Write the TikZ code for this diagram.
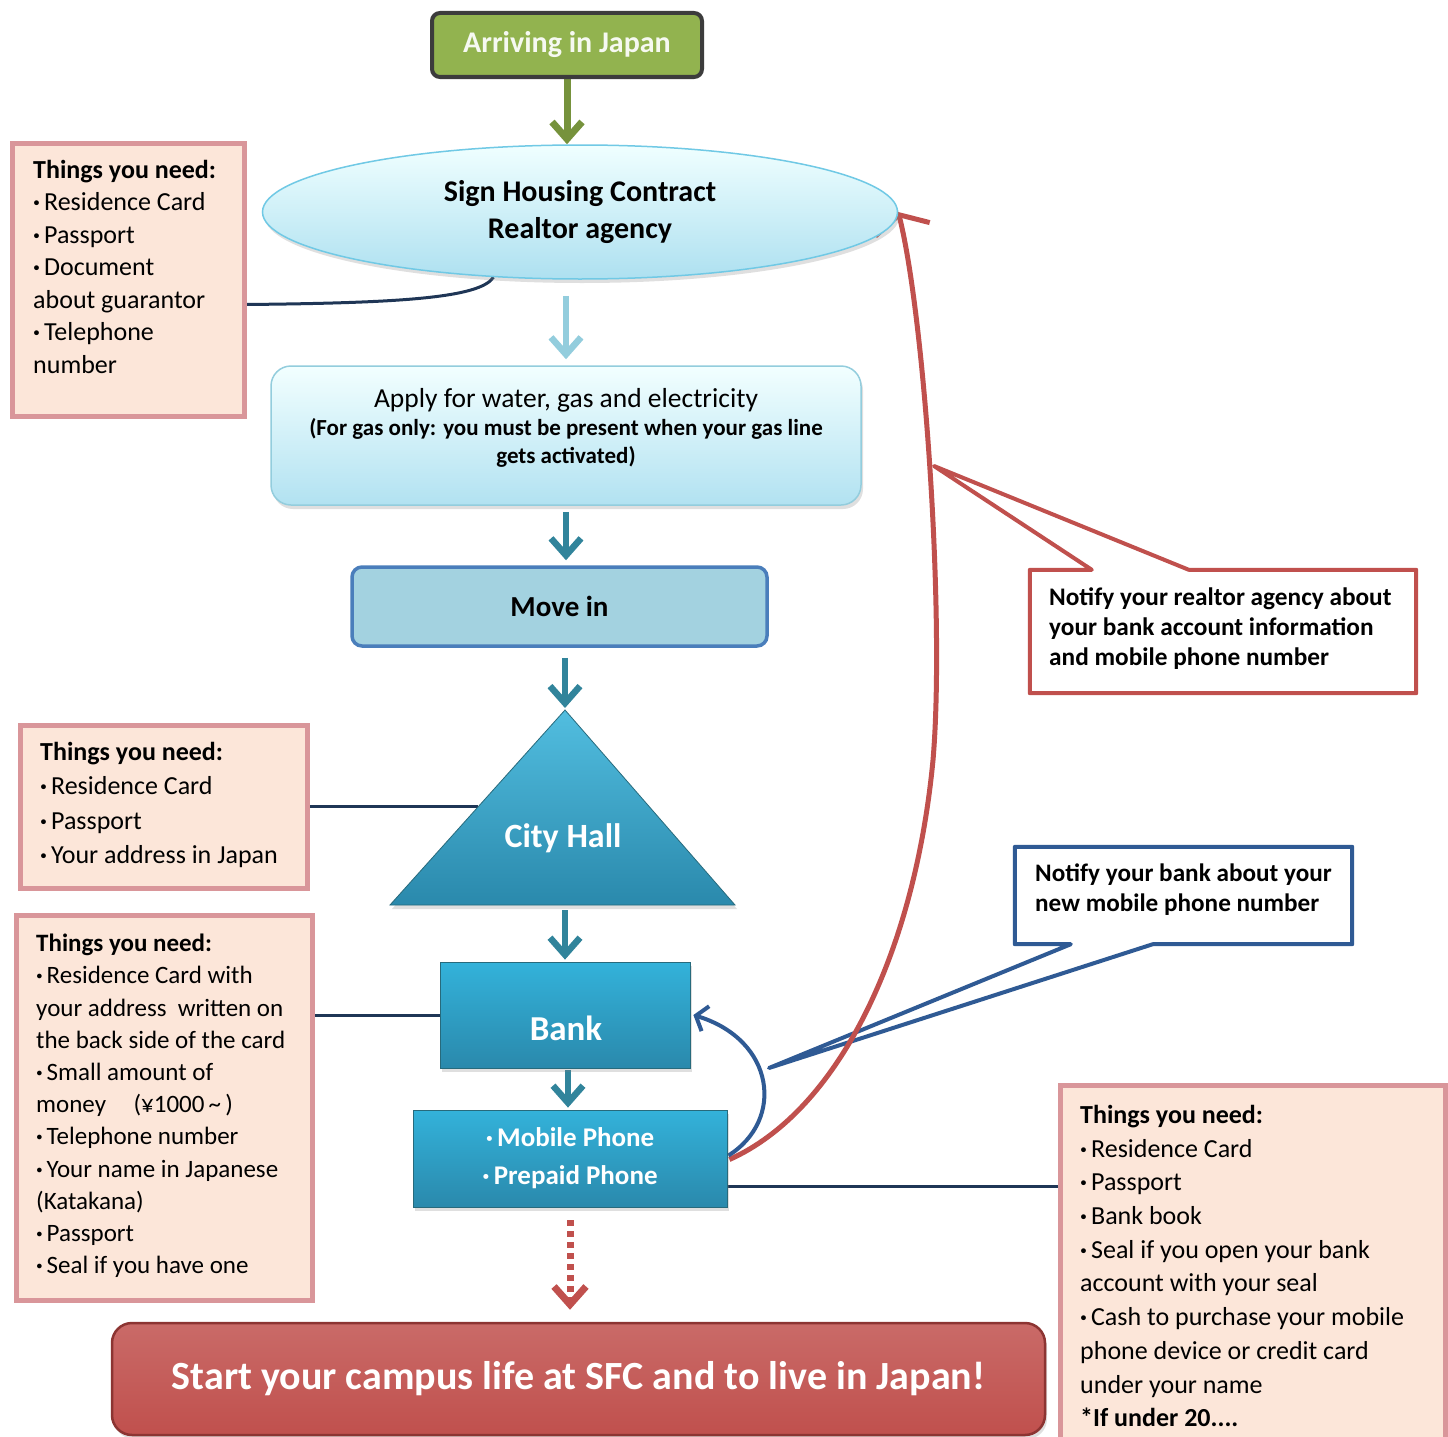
\documentclass[tikz,border=0pt]{standalone}
\usepackage{fontspec}
\setmainfont{Carlito}
\usetikzlibrary{arrows.meta,shapes.geometric,shadows,calc}
\definecolor{grfill}{HTML}{92B34F}
\definecolor{grline}{HTML}{3C3C3C}
\definecolor{grarrow}{HTML}{76923C}
\definecolor{lblue}{HTML}{93CDDD}
\definecolor{tealA}{HTML}{31849B}
\definecolor{pinkfill}{HTML}{FCE6D9}
\definecolor{pinkline}{HTML}{D9969A}
\definecolor{navyline}{HTML}{1F3656}
\definecolor{movefill}{HTML}{A3D2E0}
\definecolor{moveline}{HTML}{4A7EBB}
\definecolor{redA}{HTML}{C0504D}
\definecolor{blueA}{HTML}{2F5A94}
\definecolor{darkredA}{HTML}{8C3432}
\definecolor{tealTop}{HTML}{33B2DA}
\definecolor{tealBot}{HTML}{2A89AC}
\newcommand\bul{\makebox[0.42em][l]{\textbf{·}}}
\pgfdeclarelayer{paper}
\pgfdeclarelayer{bg}
\pgfdeclarelayer{mid}
\pgfsetlayers{paper,bg,mid,main}
\begin{document}
\begin{tikzpicture}[x=1pt,y=-1pt,
  shad/.style={drop shadow={shadow xshift=2pt,shadow yshift=-4pt,opacity=0.25}},
  pinkbox/.style={draw=pinkline,line width=5pt,fill=pinkfill,inner sep=0pt},
  listtext/.style={anchor=north west,align=left,inner sep=0pt},
  flowarrow/.style={line width=6.5pt,-{Straight Barb[length=17pt,width=30pt]}},
  conn/.style={draw=navyline,line width=3pt},
  tealbox/.style={shape=rectangle,draw=tealA!80!black,line width=0.8pt,top color=tealTop,bottom color=tealBot,inner sep=0pt,shad}
]
\useasboundingbox (0,0) rectangle (1448,1437);
\begin{pgfonlayer}{paper}
\fill[white] (0,0) rectangle (1448,1437);
\end{pgfonlayer}

% ---------- main flow ----------
\node[draw=grline,line width=4pt,fill=grfill,rounded corners=8pt,minimum width=270pt,minimum height=64pt,
      text=white!92!grfill,font=\bfseries\fontsize{30}{36}\selectfont] (arrive) at (567,45) {Arriving in Japan};

\node[ellipse,draw=tealTop!70!white,line width=1.5pt,top color=cyan!6!white,bottom color=tealTop!40!white,
      minimum width=635pt,minimum height=134pt,inner sep=0pt,align=center,shad,
      font=\bfseries\fontsize{30}{37}\selectfont] (ell) at (580,212) {Sign Housing Contract\\Realtor agency};

\node[draw=lblue,line width=1.5pt,rounded corners=20pt,top color=cyan!5!white,bottom color=tealTop!38!white,
      minimum width=590pt,minimum height=139pt,shad] (apply) at (566,435.5) {};
\node[align=center,inner sep=0pt,font=\bfseries\fontsize{23}{28}\selectfont] (applyt) at (566,428)
  {{\mdseries\fontsize{27.5}{31}\selectfont Apply for water, gas and electricity}\\[0pt]
   (For gas only: you must be present when your gas line\\gets activated)};

\node[draw=moveline,line width=3.5pt,fill=movefill,rounded corners=10pt,minimum width=415pt,minimum height=79pt,
      font=\bfseries\fontsize{29}{34}\selectfont] (move) at (559.5,606.5) {Move in};

\coordinate (cityT) at (565,710);
\coordinate (cityL) at (390,905);
\coordinate (cityR) at (735,905);
\coordinate (cityB) at (565,905);
\coordinate (cityE) at (478,806.5);
\path[draw=tealA!80!black,line width=0.8pt,top color=tealTop!85!white,bottom color=tealBot,shad]
  (cityT) -- (cityR) -- (cityL) -- cycle;
\node[text=white,font=\bfseries\fontsize{34}{40}\selectfont] (city) at (563,838) {City Hall};

\node[tealbox,minimum width=250pt,minimum height=106pt] (bank) at (565,1015) {};
\node[text=white,font=\bfseries\fontsize{35}{40}\selectfont] (bankt) at (566,1028) {Bank};
\node[tealbox,minimum width=314pt,minimum height=97pt,text=white,align=center,font=\bfseries\fontsize{27}{38}\selectfont] (phone) at (570,1158.5)
  {\bul Mobile Phone\\\bul Prepaid Phone};

\node[draw=darkredA,line width=2.5pt,rounded corners=20pt,top color=redA!85!white,bottom color=redA,
      minimum width=933pt,minimum height=112pt,text=white,font=\bfseries\fontsize{40}{46}\selectfont,shad] (final) at (578.5,1379)
  {Start your campus life at SFC and to live in Japan!};

% ---------- side boxes ----------
\node[pinkbox,minimum width=232pt,minimum height=273pt] (box1) at (128,279.5) {};
\node[listtext,font=\fontsize{26}{32.5}\selectfont] (box1t) at (33,160)
  {\textbf{Things you need:}\\\bul Residence Card\\\bul Passport\\\bul Document\\about guarantor\\\bul Telephone\\number};

\node[pinkbox,minimum width=287pt,minimum height=163pt] (box2) at (163.5,806.5) {};
\node[listtext,font=\fontsize{26}{34.5}\selectfont] (box2t) at (40,742)
  {\textbf{Things you need:}\\\bul Residence Card\\\bul Passport\\\bul Your address in Japan};

\node[pinkbox,minimum width=296pt,minimum height=385pt] (box3) at (164,1107.5) {};
\node[listtext,font=\fontsize{25}{32.2}\selectfont] (box3t) at (36,934)
  {\textbf{Things you need:}\\\bul Residence Card with\\your address\ \ written on\\the back side of the card\\\bul Small amount of\\
   money\hspace{1.1em}(¥1000\,\textasciitilde\,)\\\bul Telephone number\\\bul Your name in Japanese\\(Katakana)\\\bul Passport\\\bul Seal if you have one};

\node[pinkbox,minimum width=385pt,minimum height=365pt] (box4) at (1252.5,1267.5) {};
\node[listtext,font=\fontsize{26}{33.7}\selectfont] (box4t) at (1080,1105)
  {\textbf{Things you need:}\\\bul Residence Card\\\bul Passport\\\bul Bank book\\\bul Seal if you open your bank\\account with your seal\\
   \bul Cash to purchase your mobile\\phone device or credit card\\under your name\\\textbf{*If under 20....}};

% ---------- callouts ----------
\node[minimum width=386pt,minimum height=123pt,inner sep=0pt] (call1) at (1223,631.5) {};
\node[listtext,font=\bfseries\fontsize{25.3}{30}\selectfont] (call1t) at (1049,588)
  {Notify your realtor agency about\\your bank account information\\and mobile phone number};
\coordinate (tip1) at (934,466);

\node[minimum width=337pt,minimum height=97pt,inner sep=0pt] (call2) at (1183.5,895.5) {};
\node[listtext,font=\bfseries\fontsize{25.2}{30}\selectfont] (call2t) at (1035,864)
  {Notify your bank about your\\new mobile phone number};
\coordinate (tip2) at (769,1068);

\begin{pgfonlayer}{bg}
  \path[draw=redA,line width=4pt,fill=white,line join=round]
    (call1.north west) -- ($(call1.north west)+(62,0)$) -- (tip1) -- ($(call1.north west)+(159,0)$)
    -- (call1.north east) -- (call1.south east) -- (call1.south west) -- cycle;
  \path[draw=blueA,line width=4pt,fill=white,line join=round]
    (call2.north west) -- (call2.north east) -- (call2.south east) -- ($(call2.south west)+(138,0)$)
    -- (tip2) -- ($(call2.south west)+(56,0)$) -- (call2.south west) -- cycle;
\end{pgfonlayer}

% ---------- arrows and connectors ----------
\begin{pgfonlayer}{mid}
  \draw[flowarrow,draw=grarrow,line width=7pt] (arrive.south) -- (arrive.south |- ell.north);
  \draw[flowarrow,draw=lblue,shorten <=16pt,shorten >=6pt] (ell.south -| apply.north) -- (apply.north);
  \draw[flowarrow,draw=tealA,shorten <=6pt,shorten >=5pt] (apply.south) -- (apply.south |- move.north);
  \draw[flowarrow,draw=tealA,shorten <=10pt,shorten >=2pt] (move.south -| cityT) -- (cityT);
  \draw[flowarrow,draw=tealA,shorten <=5pt,shorten >=2pt] (cityB) -- (cityB |- bank.north);
  \draw[flowarrow,draw=tealA,shorten <=2pt,shorten >=2pt] (bank.south -| 568,0) -- (568,0 |- phone.north);
  \draw[draw=redA,line width=7pt,dash pattern=on 6pt off 5pt,-{Straight Barb[length=18pt,width=32pt]},
        shorten <=13pt,shorten >=12pt] (phone.south) -- (phone.south |- final.north);

  \draw[conn] ([yshift=-25pt]box1.east) .. controls (400,303) and (480,298) .. (ell.217);
  \draw[conn] (box2.east) -- (cityE);
  \draw[conn] (box3.east |- bank.west) -- (bank.west);
  \coordinate (p4) at ($(phone.east)+(0,28)$);
  \draw[conn] (p4) -- (p4 -| box4.west);

  \draw[draw=redA,line width=5pt,-{Straight Barb[length=15pt,width=56pt]}]
    ($(phone.east)+(2,1)$) .. controls (840,1110) and (915,950) .. (933,760)
    .. controls (945,620) and (925,320) .. (ell.east);
  \draw[draw=blueA,line width=4pt,-{Straight Barb[length=10pt,width=26pt]}]
    ($(phone.east)+(1,-3)$) .. controls (785,1120) and (775,1040) .. ($(bank.east)+(3,0)$);
\end{pgfonlayer}
\end{tikzpicture}
\end{document}
